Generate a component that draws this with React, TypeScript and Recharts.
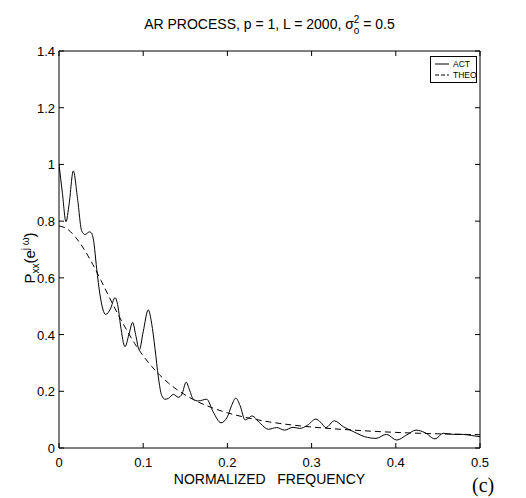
import { LineChart, Line, XAxis, YAxis } from 'recharts';

const actFreq = [
  0, 0.004, 0.0083, 0.012, 0.017, 0.022, 0.027, 0.031, 0.036, 0.038, 0.041, 0.0447, 0.0487,
  0.0554, 0.061, 0.0665, 0.07, 0.073, 0.0784, 0.083, 0.0875, 0.091, 0.0954, 0.1, 0.106, 0.11,
  0.114, 0.118, 0.122, 0.126, 0.13, 0.136, 0.1417, 0.146, 0.151, 0.155, 0.1595, 0.1655, 0.1754,
  0.183, 0.1924, 0.2, 0.205, 0.21, 0.215, 0.221, 0.225, 0.229, 0.239, 0.2486, 0.2585, 0.268,
  0.278, 0.286, 0.295, 0.305, 0.311, 0.317, 0.327, 0.3377, 0.3495, 0.363, 0.3765, 0.389, 0.401,
  0.413, 0.424, 0.4347, 0.4466, 0.4564, 0.468, 0.48, 0.49, 0.5,
];
const actValues = [
  1.0, 0.9, 0.798, 0.86, 0.977, 0.88, 0.765, 0.753, 0.762, 0.76, 0.733, 0.634, 0.54,
  0.471, 0.49, 0.53, 0.5, 0.434, 0.357, 0.4, 0.443, 0.4, 0.346, 0.41, 0.487, 0.44,
  0.351, 0.25, 0.185, 0.172, 0.175, 0.189, 0.179, 0.19, 0.232, 0.205, 0.172, 0.166, 0.172,
  0.128, 0.089, 0.11, 0.15, 0.176, 0.15, 0.099, 0.105, 0.113, 0.087, 0.066, 0.072, 0.063,
  0.073, 0.069, 0.08, 0.102, 0.09, 0.072, 0.096, 0.075, 0.058, 0.04, 0.034, 0.048, 0.028,
  0.046, 0.063, 0.054, 0.032, 0.052, 0.048, 0.048, 0.044, 0.04,
];

const theoFreq = [
  0, 0.01, 0.02, 0.03, 0.04, 0.05, 0.06, 0.07, 0.08, 0.09, 0.1, 0.11, 0.12, 0.13, 0.14,
  0.15, 0.16, 0.18, 0.2, 0.22, 0.25, 0.28, 0.3, 0.35, 0.4, 0.45, 0.5,
];
const theoValues = [
  0.783, 0.772, 0.742, 0.7, 0.648, 0.59, 0.53, 0.472, 0.418, 0.368, 0.325, 0.288, 0.256,
  0.229, 0.206, 0.187, 0.17, 0.144, 0.124, 0.109, 0.092, 0.08, 0.074, 0.063, 0.055, 0.05,
  0.047,
];

const xTicks = [0, 0.1, 0.2, 0.3, 0.4, 0.5];
const yTicks = [0, 0.2, 0.4, 0.6, 0.8, 1, 1.2, 1.4];

const actData = actFreq.map((f, i) => ({ f, act: actValues[i] }));
const theoData = theoFreq.map((f, i) => ({ f, theo: theoValues[i] }));

const FONT = '"Liberation Sans", Arial, Helvetica, sans-serif';
const TICK_LEN = 5;

// matlab style: tick marks point into the plot box
function BottomTick({ x, y, payload }: any) {
  const axisY = y - 9;
  return (
    <g>
      <line x1={x} y1={axisY} x2={x} y2={axisY - TICK_LEN} stroke="#000" />
      <text x={x} y={y + 10} textAnchor="middle" fontSize={13} fontFamily={FONT} fill="#000">
        {String(payload.value)}
      </text>
    </g>
  );
}

function LeftTick({ x, y, payload }: any) {
  const axisX = x + 4;
  return (
    <g>
      <line x1={axisX} y1={y} x2={axisX + TICK_LEN} y2={y} stroke="#000" />
      <text x={x} y={y + 5} textAnchor="end" fontSize={13} fontFamily={FONT} fill="#000">
        {String(payload.value)}
      </text>
    </g>
  );
}

function TopTick({ x, y }: any) {
  return <line x1={x} y1={y} x2={x} y2={y + TICK_LEN} stroke="#000" />;
}

function RightTick({ x, y }: any) {
  return <line x1={x} y1={y} x2={x - TICK_LEN} y2={y} stroke="#000" />;
}

export default function App() {
  return (
    <div style={{ position: 'relative', width: 518, height: 490, background: '#fff' }}>
      <LineChart width={518} height={490} margin={{ top: 42, right: 45, bottom: 0, left: 0 }}>
        <XAxis
          dataKey="f"
          type="number"
          domain={[0, 0.5]}
          ticks={xTicks}
          allowDataOverflow
          height={50}
          stroke="#000"
          tickLine={false}
          tickSize={0}
          tickMargin={9}
          tick={<BottomTick />}
        />
        <XAxis
          xAxisId="top"
          orientation="top"
          dataKey="f"
          type="number"
          domain={[0, 0.5]}
          ticks={xTicks}
          allowDataOverflow
          height={1}
          stroke="#000"
          tickLine={false}
          tickSize={0}
          tickMargin={0}
          tick={<TopTick />}
        />
        <YAxis
          type="number"
          domain={[0, 1.4]}
          ticks={yTicks}
          allowDataOverflow
          width={51}
          stroke="#000"
          tickLine={false}
          tickSize={0}
          tickMargin={4}
          tick={<LeftTick />}
        />
        <YAxis
          yAxisId="right"
          orientation="right"
          type="number"
          domain={[0, 1.4]}
          ticks={yTicks}
          allowDataOverflow
          width={1}
          stroke="#000"
          tickLine={false}
          tickSize={0}
          tickMargin={0}
          tick={<RightTick />}
        />
        <Line
          data={theoData}
          dataKey="theo"
          xAxisId="top"
          yAxisId="right"
          type="monotone"
          stroke="#000"
          strokeWidth={1}
          strokeDasharray="6 4"
          dot={false}
          isAnimationActive={false}
        />
        <Line
          data={actData}
          dataKey="act"
          type="monotone"
          stroke="#000"
          strokeWidth={1}
          dot={false}
          isAnimationActive={false}
        />
      </LineChart>
      <svg
        width={518}
        height={490}
        style={{ position: 'absolute', left: 0, top: 0, pointerEvents: 'none' }}
      >
        <text x={261.5} y={21} textAnchor="middle" fontSize={14} fontFamily={FONT} fill="#000">
          AR PROCESS, p = 1, L = 2000, σ
          <tspan fontSize={10} dy={-6}>2</tspan>
          <tspan fontSize={10} dx={-5.6} dy={11}>o</tspan>
          <tspan dy={-5}> = 0.5</tspan>
        </text>
        <text x={261.5} y={476} textAnchor="middle" fontSize={14} fontFamily={FONT} fill="#000" xmlSpace="preserve">
          NORMALIZED   FREQUENCY
        </text>
        <text
          transform="translate(27, 250) rotate(-90)"
          textAnchor="middle"
          fontSize={15}
          fontFamily={FONT}
          fill="#000"
        >
          P
          <tspan fontSize={10} dy={4}>xx</tspan>
          <tspan dy={-4}>(e</tspan>
          <tspan fontSize={10} dy={-6}>j ω</tspan>
          <tspan dy={6}>)</tspan>
        </text>
        <text x={464} y={484} fontSize={20} fontFamily='"Liberation Serif", "DejaVu Serif", serif' fill="#000">
          (c)
        </text>
        <g transform="translate(422, 48)">
          <rect x={0.5} y={0.5} width={46} height={26} fill="#fff" stroke="#000" strokeWidth={1} />
          <line x1={5} y1={8} x2={19} y2={8} stroke="#000" strokeWidth={1} />
          <line x1={5} y1={19} x2={19} y2={19} stroke="#000" strokeWidth={1} strokeDasharray="4 2" />
          <text x={23} y={11} fontSize={8.5} fontFamily={FONT} fill="#000">ACT</text>
          <text x={23} y={22} fontSize={8.5} fontFamily={FONT} fill="#000">THEO</text>
        </g>
      </svg>
    </div>
  );
}
